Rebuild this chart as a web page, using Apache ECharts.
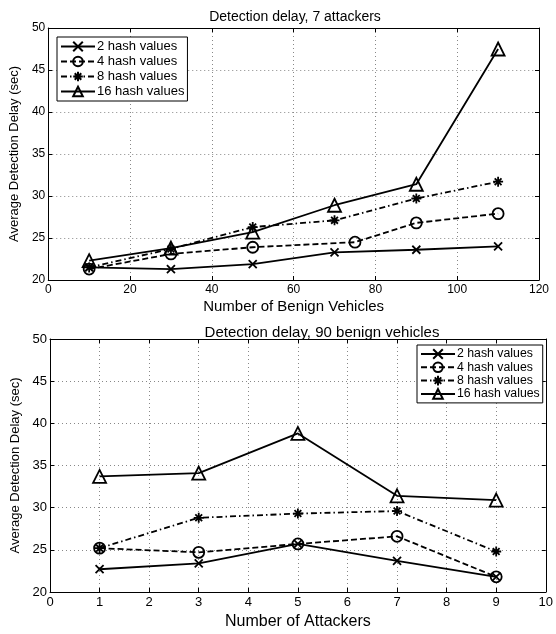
<!DOCTYPE html>
<html><head><meta charset="utf-8">
<script src="https://cdn.jsdelivr.net/npm/echarts@6/dist/echarts.min.js"></script>
<style>html,body{margin:0;padding:0;background:#fff}#c{width:556px;height:634px}</style>
</head><body><div id="c"></div>
<script>
const seriesNames = ['2 hash values','4 hash values','8 hash values','16 hash values'];
// Top chart: x = number of benign vehicles
const topX2  = [10,30,50,70,90,110];
const top2   = [21.5,21.3,21.9,23.3,23.6,24.0];
const topX4  = [10,30,50,75,90,110];
const top4   = [21.3,23.1,23.9,24.5,26.8,27.9];
const topX8  = [10,30,50,70,90,110];
const top8   = [21.5,23.7,26.3,27.1,29.7,31.7];
const topX16 = [10,30,50,70,90,110];
const top16  = [22.3,23.8,25.7,28.9,31.4,47.5];
// Bottom chart: x = number of attackers
const botX   = [1,3,5,7,9];
const bot2   = [22.7,23.4,25.7,23.7,21.8];
const bot4   = [25.2,24.7,25.7,26.6,21.8];
const bot8   = [25.2,28.8,29.3,29.6,24.8];
const bot16  = [33.7,34.1,38.8,31.4,30.9];
const yTicks = [20,25,30,35,40,45,50];

const FONT = 'Liberation Sans';
const symX = 'path://M0,0L10,10M10,0L0,10';
const symStar = 'path://M5,0L5,10M0,5L10,5M1.6,1.6L8.4,8.4M8.4,1.6L1.6,8.4';
const styles = [
  {symbol: symX, size: 8, dash: 'solid'},
  {symbol: 'circle', size: 11, dash: [6,3]},
  {symbol: symStar, size: 10, dash: [6,3,1.5,3]},
  {symbol: 'triangle', size: 13, dash: 'solid'}
];
function pairs(xs, ys){ return xs.map((x,i)=>[x,ys[i]]); }
function mkSeries(idx, gi, data){
  const s = styles[idx];
  return {
    name: seriesNames[idx], type:'line', xAxisIndex: gi*2, yAxisIndex: gi*2,
    data, symbol: s.symbol, symbolSize: s.size, showAllSymbol:true,
    lineStyle:{color:'#000', width:1.8, type: s.dash},
    itemStyle:{color:'rgba(255,255,255,0)', borderColor:'#000', borderWidth:1.8},
    emphasis:{disabled:true}, animation:false, z: 3
  };
}
function xAx(gi, min, max, interval, name, gap, nameSize, labSize){
  return [{
    gridIndex: gi, type:'value', min, max, interval, name, nameLocation:'middle', nameGap: gap,
    nameTextStyle:{fontFamily:FONT, fontSize:nameSize, color:'#000'},
    axisLine:{show:true, onZero:false, lineStyle:{color:'#000', width:1}},
    axisTick:{show:true, inside:true, length:4, lineStyle:{color:'#000'}},
    axisLabel:{fontFamily:FONT, fontSize:labSize, color:'#000', margin:4},
    splitLine:{show:true, lineStyle:{color:'#888', type:[1,3], width:1}}
  },{
    gridIndex: gi, type:'value', min, max, interval, position:'top',
    axisLine:{show:true, onZero:false, lineStyle:{color:'#000', width:1}},
    axisTick:{show:true, inside:true, length:4, lineStyle:{color:'#000'}},
    axisLabel:{show:false}, splitLine:{show:false}
  }];
}
function yAx(gi, gap, labSize){
  return [{
    gridIndex: gi, type:'value', min: yTicks[0], max: yTicks[yTicks.length-1], interval: 5,
    name:'Average Detection Delay (sec)', nameLocation:'middle', nameGap: gap,
    nameTextStyle:{fontFamily:FONT, fontSize:13, color:'#000'},
    axisLine:{show:true, onZero:false, lineStyle:{color:'#000', width:1}},
    axisTick:{show:true, inside:true, length:4, lineStyle:{color:'#000'}},
    axisLabel:{fontFamily:FONT, fontSize:labSize, color:'#000', margin:3},
    splitLine:{show:true, lineStyle:{color:'#888', type:[1,3], width:1}}
  },{
    gridIndex: gi, type:'value', min: yTicks[0], max: yTicks[yTicks.length-1], interval: 5, position:'right',
    axisLine:{show:true, onZero:false, lineStyle:{color:'#000', width:1}},
    axisTick:{show:true, inside:true, length:4, lineStyle:{color:'#000'}},
    axisLabel:{show:false}, splitLine:{show:false}
  }];
}
function legend(pos, fs, gap){
  return Object.assign({
    orient:'vertical', data: seriesNames, backgroundColor:'#fff',
    borderColor:'#000', borderWidth:1, padding:[3,3,3,3], itemGap:gap,
    itemWidth:34, itemHeight:12, selectedMode:false,
    textStyle:{fontFamily:FONT, fontSize:fs, color:'#000', padding:[0,0,0,-3]}
  }, pos);
}
const chart = echarts.init(document.getElementById('c'), null, {renderer:'canvas'});
chart.setOption({
  backgroundColor:'#fff',
  animation:false,
  title:[
    {text:'Detection delay, 7 attackers', left: 290, top: 5, textAlign:'center',
     textStyle:{fontFamily:FONT, fontSize:14, fontWeight:'normal', color:'#000'}},
    {text:'Detection delay, 90 benign vehicles', left: 317, top: 320, textAlign:'center',
     textStyle:{fontFamily:FONT, fontSize:15, fontWeight:'normal', color:'#000'}}
  ],
  grid:[
    {left:42, top:28, width:497, height:252},
    {left:50, top:339, width:499, height:253}
  ],
  xAxis: [...xAx(0,0,120,20,'Number of Benign Vehicles',19,15,12), ...xAx(1,0,10,1,'Number of Attackers',22,16,13)],
  yAxis: [...yAx(0,24,12), ...yAx(1,27,13)],
  legend:[ legend({left:57, top:37}, 13, 2), legend({left:417, top:345}, 12.3, 1.3) ],
  series:[
    mkSeries(0,0,pairs(topX2,top2)),
    mkSeries(1,0,pairs(topX4,top4)),
    mkSeries(2,0,pairs(topX8,top8)),
    mkSeries(3,0,pairs(topX16,top16)),
    mkSeries(0,1,pairs(botX,bot2)),
    mkSeries(1,1,pairs(botX,bot4)),
    mkSeries(2,1,pairs(botX,bot8)),
    mkSeries(3,1,pairs(botX,bot16))
  ]
});
</script></body></html>
